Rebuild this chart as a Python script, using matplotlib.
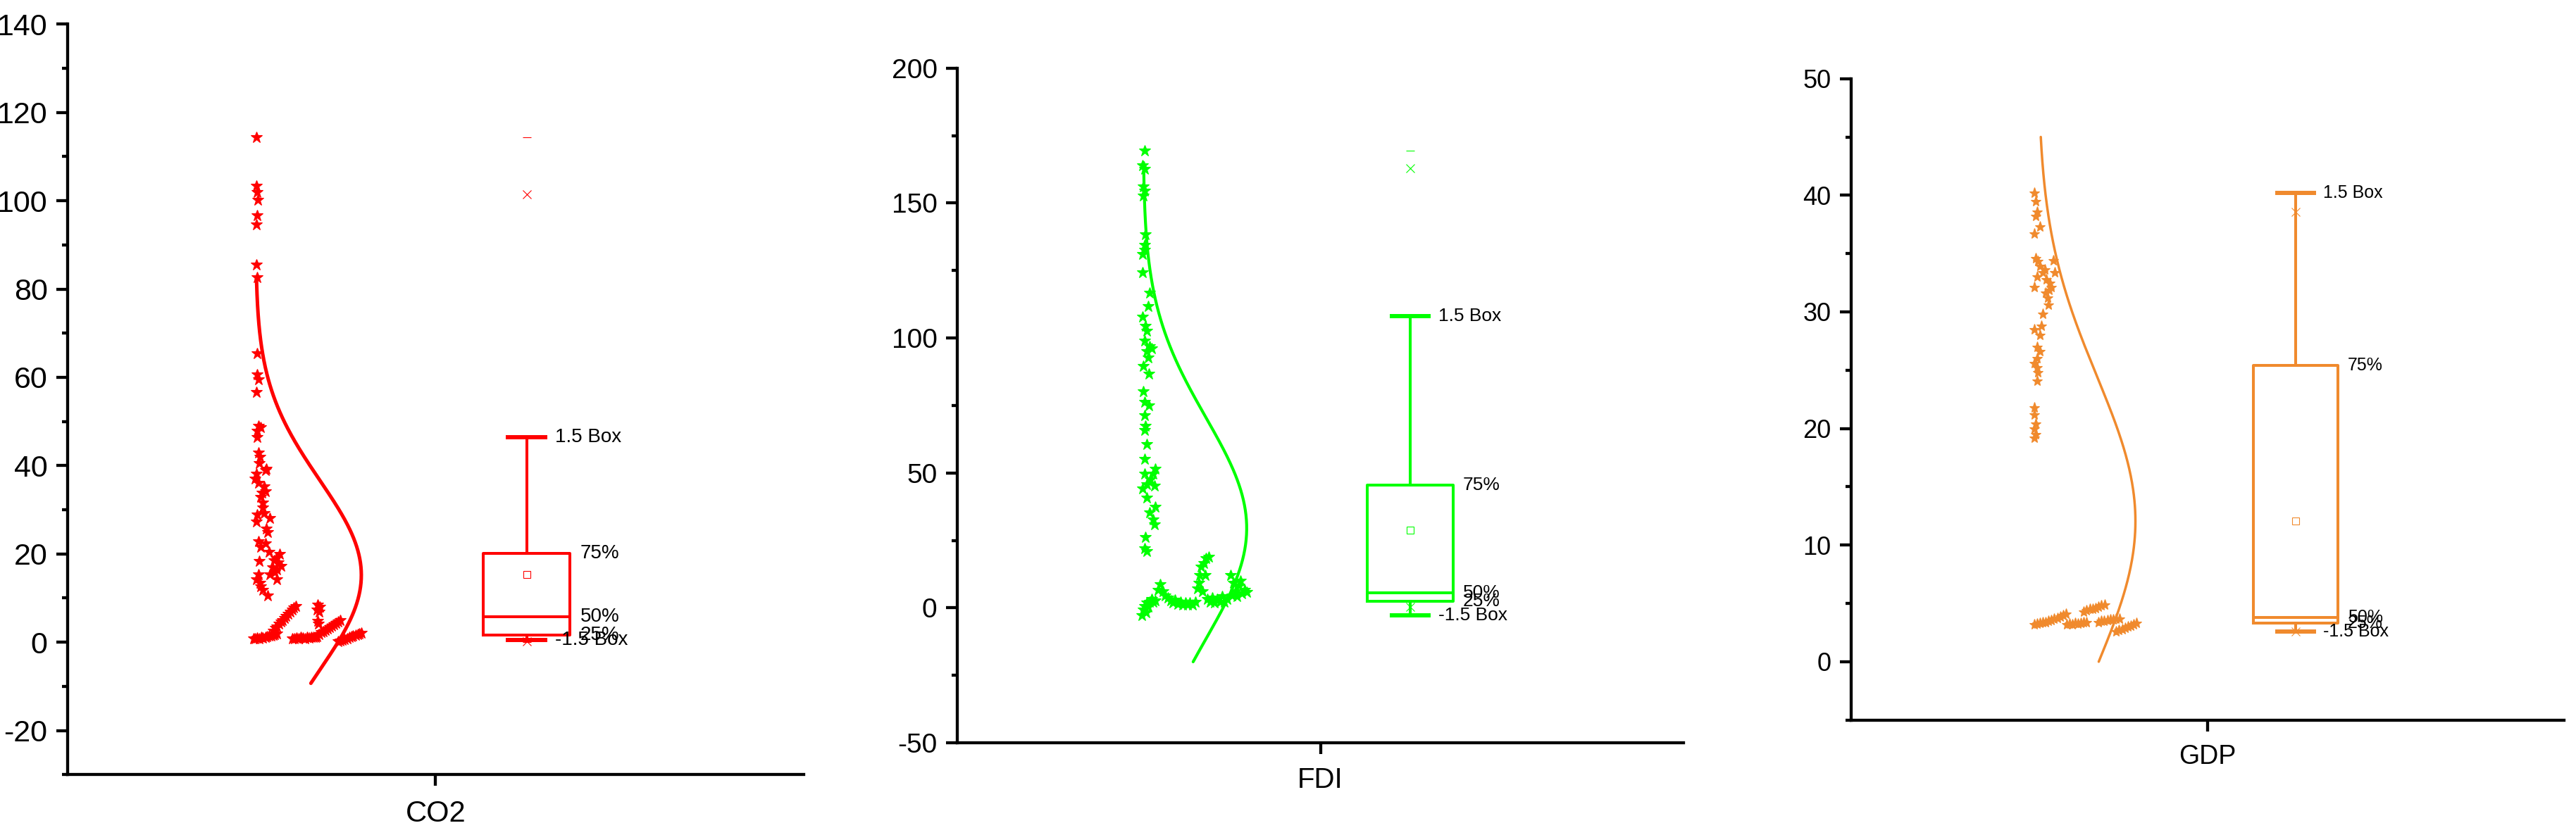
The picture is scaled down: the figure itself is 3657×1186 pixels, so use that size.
import numpy as np
import matplotlib
matplotlib.use('Agg')
import matplotlib.pyplot as plt
from matplotlib.ticker import MultipleLocator

plt.rcParams['font.family'] = ['Liberation Sans', 'DejaVu Sans']
plt.rcParams['axes.unicode_minus'] = False

# ---------------- CO2 ----------------
co2_x = [0.512, 0.512, 0.514, 0.516, 0.514, 0.512, 0.512, 0.514, 0.514, 0.514,
         0.518, 0.512, 0.518, 0.524, 0.514, 0.518, 0.522, 0.539, 0.537, 0.512,
         0.509, 0.518, 0.534, 0.537, 0.524, 0.531, 0.515, 0.534, 0.550, 0.512,
         0.540, 0.544, 0.518, 0.537, 0.524, 0.547, 0.576, 0.560, 0.521, 0.572,
         0.556, 0.569, 0.518, 0.550, 0.569, 0.512, 0.524, 0.531, 0.544, 0.522,
         0.562, 0.579, 0.566, 0.531, 0.528, 0.520, 0.515,
         # bottom streaks
         0.505, 0.510, 0.515, 0.520, 0.526, 0.531, 0.537, 0.542, 0.548, 0.553, 0.558, 0.563, 0.568,
         0.559, 0.564, 0.569, 0.574, 0.579, 0.584, 0.589, 0.594, 0.600, 0.605, 0.610, 0.615, 0.620,
         0.611, 0.617, 0.622, 0.628, 0.634, 0.639, 0.645, 0.651, 0.656, 0.662, 0.668, 0.674,
         0.680, 0.677, 0.684, 0.679, 0.682, 0.686,
         0.678, 0.684, 0.689, 0.695, 0.701, 0.707, 0.712, 0.718, 0.724, 0.730, 0.735, 0.741,
         0.735, 0.741, 0.747, 0.753, 0.759, 0.765, 0.771, 0.776, 0.782, 0.788, 0.793, 0.798]
co2_y = [114.3, 103.3, 102.0, 100.1, 96.7, 94.6, 85.5, 82.6, 65.4, 60.6,
         59.5, 56.7, 49.0, 48.7, 46.5, 43.0, 42.0, 39.3, 39.0, 38.2,
         37.1, 36.1, 35.3, 34.2, 32.9, 31.6, 28.9, 29.2, 28.1, 27.3,
         25.7, 24.9, 22.8, 22.3, 21.5, 20.4, 19.9, 18.6, 18.3, 18.0,
         17.0, 16.4, 15.4, 15.4, 14.3, 14.3, 12.7, 11.9, 10.6, 13.4,
         15.8, 17.3, 19.0, 30.5, 33.8, 40.6, 47.8,
         0.9, 0.8, 1.0, 0.9, 1.1, 1.0, 1.2, 1.3, 1.4, 1.5, 1.6, 1.8, 1.9,
         2.6, 3.2, 3.6, 4.1, 4.6, 5.0, 5.5, 6.0, 6.4, 6.9, 7.3, 7.8, 8.2,
         0.9, 0.8, 1.0, 0.9, 1.1, 1.0, 0.9, 1.1, 1.0, 1.2, 1.1, 1.2,
         8.5, 7.4, 6.9, 4.8, 4.2, 8.0,
         1.3, 1.8, 2.2, 2.5, 2.8, 3.1, 3.4, 3.7, 4.0, 4.3, 4.6, 4.9,
         0.2, 0.4, 0.5, 0.7, 0.9, 1.1, 1.3, 1.4, 1.6, 1.8, 2.0, 2.1]

# ---------------- FDI ----------------
fdi_x = [0.516, 0.511, 0.516, 0.513, 0.516, 0.513, 0.518, 0.516, 0.516, 0.511,
         0.511, 0.530, 0.525, 0.511, 0.518, 0.521, 0.516, 0.530, 0.521, 0.535,
         0.525, 0.513, 0.527, 0.513, 0.516, 0.527, 0.516, 0.518, 0.516, 0.521,
         0.516, 0.546, 0.539, 0.516, 0.532, 0.521, 0.511, 0.543, 0.521, 0.546,
         0.530, 0.539, 0.543, 0.518, 0.516, 0.521,
         # bottom
         0.508, 0.512, 0.516, 0.519, 0.521, 0.525, 0.530, 0.535, 0.539, 0.546,
         0.553, 0.559, 0.566, 0.573, 0.580, 0.587, 0.593, 0.600, 0.607, 0.614,
         0.621, 0.628, 0.634, 0.641, 0.648, 0.655,
         0.662, 0.666, 0.668, 0.671, 0.679, 0.685, 0.693, 0.682, 0.675,
         0.689, 0.696, 0.702, 0.709, 0.716, 0.723, 0.730, 0.736, 0.743,
         0.753, 0.761, 0.766, 0.775, 0.780, 0.784, 0.791, 0.798, 0.770, 0.757]
fdi_y = [169.4, 164.0, 162.5, 156.2, 154.6, 152.6, 138.4, 134.5, 132.5, 131.0,
         124.2, 116.7, 111.8, 107.8, 104.5, 102.5, 99.0, 97.0, 95.0, 96.0,
         92.6, 89.5, 86.7, 80.2, 76.3, 74.9, 71.3, 67.4, 65.8, 60.5,
         55.1, 51.6, 49.6, 49.6, 47.6, 45.7, 44.1, 45.3, 40.7, 37.4,
         35.4, 32.8, 30.9, 26.3, 22.0, 21.0,
         -2.7, -0.7, 0.7, -1.7, 1.9, 0.3, 2.2, 3.2, 2.2, 2.6,
         6.6, 8.6, 6.2, 4.6, 3.8, 2.6, 1.9, 3.0, 1.3, 2.2,
         1.1, 1.9, 1.1, 1.9, 1.1, 2.2,
         7.2, 9.2, 12.1, 15.1, 16.5, 18.4, 19.0, 12.1, 6.2,
         3.2, 2.2, 3.8, 1.9, 3.2, 2.2, 4.2, 2.2, 3.2,
         12.1, 9.2, 6.2, 8.2, 10.1, 5.2, 6.6, 5.8, 4.2, 4.6]

# ---------------- GDP ----------------
gdp_x = [0.513, 0.518, 0.521, 0.518, 0.513, 0.529, 0.518, 0.524, 0.529, 0.521,
         0.538, 0.567, 0.571, 0.557, 0.562, 0.513, 0.546, 0.551, 0.554, 0.538,
         0.513, 0.534, 0.529, 0.521, 0.529, 0.521, 0.513, 0.521, 0.524, 0.521,
         0.513, 0.513, 0.518, 0.513, 0.518, 0.513, 0.548, 0.556, 0.543,
         # bottom
         0.513, 0.521, 0.529, 0.537, 0.546, 0.554, 0.562, 0.570, 0.579, 0.587, 0.595, 0.603,
         0.605, 0.613, 0.621, 0.629, 0.637, 0.645, 0.653, 0.661,
         0.653, 0.661, 0.669, 0.678, 0.686, 0.694, 0.702, 0.711,
         0.694, 0.702, 0.710, 0.719, 0.727, 0.735, 0.743, 0.752,
         0.743, 0.751, 0.760, 0.768, 0.776, 0.784, 0.793, 0.801]
gdp_y = [40.2, 39.5, 38.6, 38.2, 36.7, 37.3, 34.6, 34.35, 33.9, 33.0,
         33.4, 34.4, 33.4, 32.5, 32.1, 32.1, 31.6, 31.2, 30.6, 29.8,
         28.5, 28.8, 28.0, 27.0, 26.6, 26.0, 25.6, 25.2, 24.8, 24.1,
         21.8, 21.2, 20.4, 20.0, 19.5, 19.2, 32.8, 31.9, 33.6,
         3.2, 3.25, 3.3, 3.35, 3.4, 3.5, 3.55, 3.65, 3.75, 3.85, 3.95, 4.1,
         3.2, 3.25, 3.2, 3.3, 3.25, 3.3, 3.35, 3.4,
         4.3, 4.4, 4.5, 4.55, 4.6, 4.7, 4.8, 4.9,
         3.4, 3.5, 3.5, 3.55, 3.6, 3.6, 3.65, 3.7,
         2.6, 2.7, 2.8, 2.9, 3.0, 3.1, 3.2, 3.3]

# box statistics: lower whisker, 25%, 50%, 75%, upper whisker, mean
co2_box = [0.43, 1.6, 5.7, 20.05, 46.4, 15.3]
fdi_box = [-2.8, 2.5, 5.6, 45.6, 108.1, 28.8]
gdp_box = [2.6, 3.3, 3.8, 25.4, 40.2, 12.05]
# 1%, 99%, min, max
co2_pct = [0.2, 101.5, 0.1, 114.4]
fdi_pct = [0.3, 162.9, -2.8, 169.4]
gdp_pct = [2.6, 38.6, 2.6, 40.2]
# normal curve: mean, sd, low, high
co2_curve = [15.2, 21.5, -9.3, 82.5]
fdi_curve = [29.5, 41.0, -20.0, 165.0]
gdp_curve = [12.05, 12.4, 0.0, 45.0]

panels = [
    dict(name='CO2', x=co2_x, y=co2_y, box=co2_box, pct=co2_pct, curve=co2_curve,
         color='#FF0000', rect=[96, 34.3, 1141, 1100.3], ylim=(-30, 140), major=20, minor=10,
         tick_fs=31, xlab_fs=30, lab_fs=20, base=0.511, amp=0.287, clw=3.6, xpad=14, ms=12),
    dict(name='FDI', x=fdi_x, y=fdi_y, box=fdi_box, pct=fdi_pct, curve=fdi_curve,
         color='#00FF00', rect=[1359, 96.7, 2390, 1055], ylim=(-50, 200), major=50, minor=25,
         tick_fs=28, xlab_fs=29, lab_fs=19, base=0.512, amp=0.285, clw=3.0, xpad=13, ms=12),
    dict(name='GDP', x=gdp_x, y=gdp_y, box=gdp_box, pct=gdp_pct, curve=gdp_curve,
         color='#F08A2D', rect=[2628, 111.7, 3640, 1022.7], ylim=(-5, 50), major=10, minor=5,
         tick_fs=26, xlab_fs=27, lab_fs=18, base=0.524, amp=0.2735, clw=2.5, xpad=13, ms=11),
]

W, H = 3657, 1186
fig = plt.figure(figsize=(W / 100, H / 100), dpi=100)

pos = 1.247
bw = 0.237
cw = 0.101

for p in panels:
    l, t, r, b = p['rect']
    ax = fig.add_axes([l / W, 1 - b / H, (r - l) / W, (b - t) / H])
    c = p['color']

    # data points
    ax.plot(p['x'], p['y'], ls='none', marker='*', ms=p['ms'], color=c, mec=c, mew=0.8)

    # normal distribution curve
    m, sd, lo, hi = p['curve']
    ys = np.linspace(lo, hi, 300)
    xs = p['base'] + p['amp'] * np.exp(-0.5 * ((ys - m) / sd) ** 2)
    ax.plot(xs, ys, color=c, lw=p['clw'], solid_capstyle='round')

    # box
    wl, q1, med, q3, wh, mean = p['box']
    stats = [dict(whislo=wl, q1=q1, med=med, q3=q3, whishi=wh, mean=mean, fliers=[])]
    ax.bxp(stats, positions=[pos], widths=bw, capwidths=cw, showmeans=True,
           showfliers=False, manage_ticks=False,
           boxprops=dict(color=c, linewidth=2.9),
           whiskerprops=dict(color=c, linewidth=2.9),
           capprops=dict(color=c, linewidth=4.3),
           medianprops=dict(color=c, linewidth=2.9),
           meanprops=dict(marker='s', ms=6.7, mfc='none', mec=c, mew=0.8))
    p1, p99, vmin, vmax = p['pct']
    ax.plot([pos, pos], [p1, p99], ls='none', marker='x', ms=8, mew=0.8, color=c)
    ax.plot([pos, pos], [vmin, vmax], ls='none', marker='_', ms=9, mew=0.8, color=c)

    # labels beside the box
    xt1 = pos + cw / 2 + 0.027
    xt2 = pos + bw / 2 + 0.027
    ax.text(xt1, wh, '1.5 Box', va='center', ha='left', fontsize=p['lab_fs'])
    ax.text(xt1, wl, '-1.5 Box', va='center', ha='left', fontsize=p['lab_fs'])
    ax.text(xt2, q3, '75%', va='center', ha='left', fontsize=p['lab_fs'])
    ax.text(xt2, med, '50%', va='center', ha='left', fontsize=p['lab_fs'])
    ax.text(xt2, q1, '25%', va='center', ha='left', fontsize=p['lab_fs'])

    ax.set_xlim(0, 2)
    ax.set_ylim(*p['ylim'])
    ax.set_xticks([1])
    ax.set_xticklabels([p['name']])
    ax.yaxis.set_major_locator(MultipleLocator(p['major']))
    ax.yaxis.set_minor_locator(MultipleLocator(p['minor']))

    for s in ['top', 'right']:
        ax.spines[s].set_visible(False)
    for s in ['left', 'bottom']:
        ax.spines[s].set_linewidth(3.1)
    ax.tick_params(axis='y', which='major', length=11.5, width=3.1, labelsize=p['tick_fs'], pad=9)
    ax.tick_params(axis='y', which='minor', length=5.8, width=3.1)
    ax.tick_params(axis='x', which='major', length=11.5, width=3.1, labelsize=p['xlab_fs'], pad=p['xpad'])
    ax.patch.set_visible(False)

fig.savefig('out.png', dpi=100)
